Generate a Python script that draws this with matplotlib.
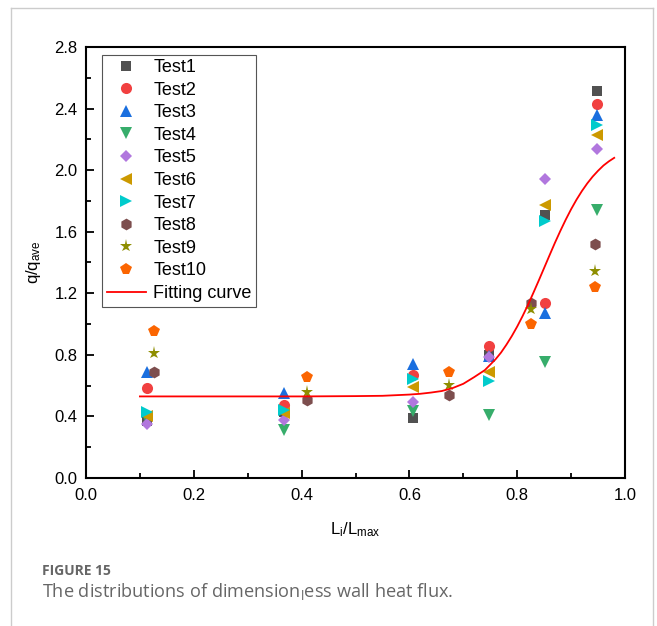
import matplotlib
matplotlib.use("Agg")
import matplotlib.pyplot as plt
from matplotlib.lines import Line2D
from matplotlib.ticker import MultipleLocator

plt.rcParams['font.family'] = ['Liberation Sans', 'DejaVu Sans']
plt.rcParams['mathtext.default'] = 'regular'

# measurement positions (L_i/L_max)
x_a = [0.113, 0.368, 0.606, 0.747, 0.852, 0.948]   # Test1 - Test7
x_b = [0.126, 0.410, 0.673, 0.825, 0.945]          # Test8 - Test10

test1 = [0.37, 0.43, 0.39, 0.80, 1.71, 2.515]
test2 = [0.587, 0.474, 0.67, 0.855, 1.14, 2.428]
test3 = [0.69, 0.55, 0.74, 0.79, 1.07, 2.358]
test4 = [0.385, 0.31, 0.437, 0.41, 0.756, 1.741]
test5 = [0.35, 0.377, 0.496, 0.787, 1.943, 2.136]
test6 = [0.40, 0.42, 0.59, 0.69, 1.774, 2.229]
test7 = [0.43, 0.44, 0.64, 0.63, 1.672, 2.294]
test8 = [0.69, 0.507, 0.539, 1.135, 1.518]
test9 = [0.814, 0.56, 0.604, 1.10, 1.347]
test10 = [0.957, 0.654, 0.69, 1.0, 1.239]

# fitting curve
fit_x = [0.10, 0.20, 0.30, 0.40, 0.50, 0.55, 0.60, 0.62, 0.64, 0.66, 0.68, 0.70,
         0.72, 0.74, 0.76, 0.77, 0.78, 0.79, 0.80, 0.81, 0.82, 0.83, 0.84, 0.85,
         0.86, 0.87, 0.88, 0.89, 0.90, 0.91, 0.92, 0.93, 0.94, 0.95, 0.96, 0.97, 0.98]
fit_y = [0.530, 0.530, 0.530, 0.530, 0.532, 0.534, 0.542, 0.547, 0.555, 0.565, 0.584, 0.612,
         0.655, 0.701, 0.772, 0.815, 0.866, 0.922, 0.984, 1.052, 1.125, 1.203, 1.283, 1.365,
         1.447, 1.528, 1.605, 1.678, 1.746, 1.808, 1.864, 1.914, 1.958, 1.996, 2.030, 2.057, 2.080]

labels = ['Test1', 'Test2', 'Test3', 'Test4', 'Test5', 'Test6', 'Test7',
          'Test8', 'Test9', 'Test10']
series = [test1, test2, test3, test4, test5, test6, test7, test8, test9, test10]
colors = ['#515151', '#F14040', '#1A6FDF', '#37AD6B', '#B177DE', '#CC9900',
          '#00CBCC', '#7D4E4E', '#8E8E00', '#FB6501']
markers = ['s', 'o', '^', 'v', 'D', '<', '>', 'h', '*', 'p']
sizes = [7, 8, 8, 8, 6.5, 8, 8, 8.5, 9.5, 8.5]

fig = plt.figure(figsize=(6.57, 6.26), dpi=100)
ax = fig.add_axes([86 / 657, 1 - 478 / 626, 539 / 657, 431 / 626])

for i, (vals, lab) in enumerate(zip(series, labels)):
    xs = x_a if i < 7 else x_b
    ax.plot(xs, vals, linestyle='none', marker=markers[i], color=colors[i],
            markersize=sizes[i], markeredgewidth=0, label=lab)

ax.plot(fit_x, fit_y, color='#FF0000', lw=1.3, label='Fitting curve')

ax.set_xlim(0, 1.0)
ax.set_ylim(0, 2.8)
ax.xaxis.set_major_locator(MultipleLocator(0.2))
ax.xaxis.set_minor_locator(MultipleLocator(0.1))
ax.yaxis.set_major_locator(MultipleLocator(0.4))
ax.yaxis.set_minor_locator(MultipleLocator(0.2))
ax.tick_params(which='both', direction='in', top=False, right=False, labelsize=12, width=1.3)
ax.tick_params(which='major', length=6)
ax.tick_params(axis='x', which='major', pad=7)
ax.tick_params(axis='y', which='major', pad=6)
ax.tick_params(which='minor', length=3.5)
for s in ax.spines.values():
    s.set_linewidth(1.5)

ax.set_xlabel(r'L$_{i}$/L$_{max}$', fontsize=12, labelpad=13)
ax.set_ylabel(r'q/q$_{ave}$', fontsize=12, labelpad=8)

leg = ax.legend(loc='upper left', bbox_to_anchor=(16 / 539, 1 - 7.5 / 431),
                borderaxespad=0, fontsize=13, fancybox=False, framealpha=1,
                edgecolor='#555555', labelspacing=0.31, handlelength=2.2,
                handletextpad=0.4, borderpad=0.25)
leg.get_frame().set_linewidth(0.8)

# page frame around the figure
W, H = 657, 626
for xs, ys in [([11, 653], [H - 8, H - 8]), ([11, 11], [H - 8, -5]), ([653, 653], [H - 8, -5])]:
    fig.add_artist(Line2D([v / W for v in xs], [v / H for v in ys], color='#cccccc', lw=1))

fig.text(42 / W, 1 - 571 / H, 'FIGURE 15', fontsize=10, fontweight='bold',
         color='#666666', family='Open Sans', va='center')
fig.text(42 / W, 1 - 591 / H, r'The distributions of dimension$_{l}$ess wall heat flux.',
         fontsize=13.1, color='#666666', family='Open Sans', va='center')

fig.savefig('out.png', dpi=100)
